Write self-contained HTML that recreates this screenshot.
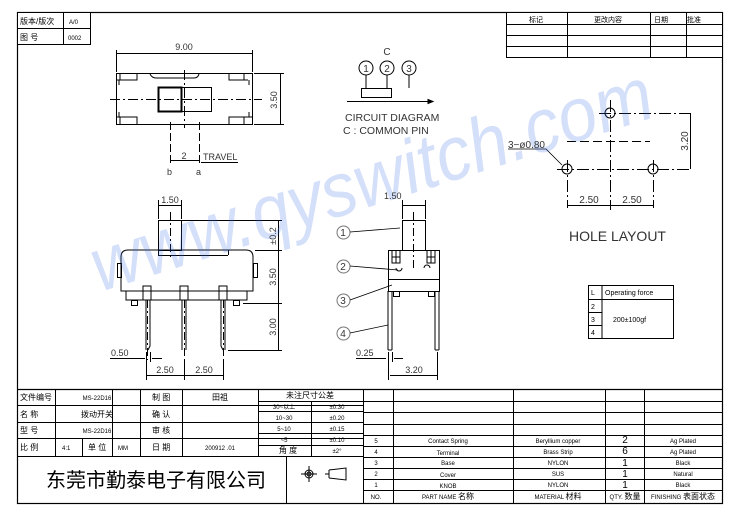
<!DOCTYPE html>
<html><head><meta charset="utf-8"><style>
html,body{margin:0;padding:0;background:#fff;}
svg{display:block;font-family:"Liberation Sans","Noto Sans CJK SC",sans-serif;}
</style></head><body>
<svg width="750" height="520" viewBox="0 0 750 520" xmlns="http://www.w3.org/2000/svg">
<g stroke="#000" fill="none" stroke-width="1">
<rect x="17.5" y="12.5" width="705" height="491" stroke-width="1.2"/>
<rect x="17.5" y="12.5" width="73" height="32" fill="#fff"/>
<line x1="17.5" y1="28.5" x2="90.5" y2="28.5"/>
<line x1="63.5" y1="12.5" x2="63.5" y2="44.5"/>
<rect x="506.5" y="12.5" width="216" height="45" fill="#fff"/>
<line x1="506.5" y1="24.5" x2="722.5" y2="24.5"/><line x1="506.5" y1="35.5" x2="722.5" y2="35.5"/><line x1="506.5" y1="46.5" x2="722.5" y2="46.5"/>
<line x1="567.5" y1="12.5" x2="567.5" y2="57.5"/><line x1="650.5" y1="12.5" x2="650.5" y2="57.5"/><line x1="686.5" y1="12.5" x2="686.5" y2="57.5"/>

<rect x="116.5" y="73.5" width="136" height="51"/>
<path d="M150 74 q2 4 6 4 h38 q4 0 5 -4"/>
<rect x="158.5" y="87.5" width="23" height="24" stroke-width="2"/>
<rect x="181.5" y="87.5" width="30" height="24"/>
<path d="M116 80 h4 v-6 M120 80 v-6 M120 80 h17 v-6 M248 80 h-4 v-6 M244 80 h-15 v-6 M116 117 h4 v7 M120 117 h17 v7 M252 117 h-8 v7 M244 117 h-15 v7 M119 80 v5 M249 80 v5 M119 117 v-5 M249 117 v-5"/>
<line x1="110" y1="99.5" x2="262" y2="99.5" stroke-dasharray="10,3,2,3"/>
<line x1="184.5" y1="70" x2="184.5" y2="128" stroke-dasharray="10,3,2,3"/>
<line x1="116.5" y1="50" x2="116.5" y2="72"/><line x1="252.5" y1="50" x2="252.5" y2="72"/>
<line x1="117" y1="53.5" x2="252" y2="53.5"/>
<line x1="254" y1="73.5" x2="284" y2="73.5"/><line x1="254" y1="124.5" x2="284" y2="124.5"/>
<line x1="280.5" y1="74" x2="280.5" y2="124"/>
<line x1="170.5" y1="122" x2="170.5" y2="163" stroke-dasharray="8,3"/>
<line x1="199.5" y1="122" x2="199.5" y2="163" stroke-dasharray="8,3"/>
<line x1="171" y1="160.5" x2="199" y2="160.5"/>
<line x1="201" y1="162.5" x2="238" y2="162.5"/>

<rect x="158.5" y="220.5" width="23" height="30"/>
<line x1="170.5" y1="212" x2="170.5" y2="257" stroke-dasharray="8,3,2,3"/>
<path d="M121 257 q0 -7 7 -7 h118 q7 0 7 7 v34 h-132 z"/>
<line x1="158.5" y1="250.5" x2="158.5" y2="255.5"/><line x1="158" y1="255.5" x2="228" y2="255.5"/><line x1="228.5" y1="250" x2="228.5" y2="255"/>
<rect x="117.5" y="263.5" width="4" height="14"/><rect x="253.5" y="263.5" width="4" height="14"/>
<path d="M126 291 v9 h121 v-9"/>
<rect x="131.5" y="300.5" width="6" height="5"/><rect x="233.5" y="300.5" width="6" height="5"/>
<path d="M143 286 v14 h8 v-14 z M146 300 v50 M150 300 v46 l-2 4 M180 286 v14 h8 v-14 z M182 300 v50 M186 300 v50 M219 286 v14 h8 v-14 z M221 300 v46 l2 4 M225 300 v50"/>
<line x1="147.5" y1="300" x2="147.5" y2="360" stroke-dasharray="8,3,2,3"/>
<line x1="184.5" y1="300" x2="184.5" y2="360" stroke-dasharray="8,3,2,3"/>
<line x1="223.5" y1="300" x2="223.5" y2="360" stroke-dasharray="8,3,2,3"/>
<line x1="158.5" y1="200" x2="158.5" y2="219"/><line x1="181.5" y1="200" x2="181.5" y2="219"/>
<line x1="158" y1="205.5" x2="181" y2="205.5"/>
<line x1="182" y1="220.5" x2="282" y2="220.5"/><line x1="255" y1="250.5" x2="282" y2="250.5"/>
<line x1="243" y1="303.5" x2="282" y2="303.5"/><line x1="228" y1="350.5" x2="282" y2="350.5"/>
<line x1="278.5" y1="220" x2="278.5" y2="350"/>
<line x1="146.5" y1="352" x2="146.5" y2="380"/><line x1="150.5" y1="352" x2="150.5" y2="362"/>
<line x1="110" y1="358.5" x2="145" y2="358.5"/><line x1="152" y1="358.5" x2="162" y2="358.5"/>
<line x1="184.5" y1="360" x2="184.5" y2="380"/><line x1="223.5" y1="360" x2="223.5" y2="380"/>
<line x1="147" y1="375.5" x2="223" y2="375.5"/>

<rect x="402.5" y="220.5" width="23" height="30"/>
<line x1="413.5" y1="212" x2="413.5" y2="270" stroke-dasharray="8,3,2,3"/>
<rect x="388.5" y="250.5" width="51" height="41"/>
<line x1="388" y1="279.5" x2="439" y2="279.5"/>
<path d="M392 251 v12 h8 v-12 M392 257 h8 M396 251 v12 M427 251 v12 h8 v-12 M427 257 h8 M431 251 v12"/>
<path d="M396 268 a3 3 0 1 0 6 0 M424 268 a3 3 0 1 1 6 0"/>
<path d="M388 291 v59 M392 291 v59 M435 291 v59 M439 291 v59 M388 350 h4 M435 350 h4"/>
<rect x="393.5" y="291.5" width="6" height="5"/><rect x="428.5" y="291.5" width="6" height="5"/>
<line x1="402.5" y1="200" x2="402.5" y2="219"/><line x1="425.5" y1="200" x2="425.5" y2="219"/>
<line x1="402" y1="205.5" x2="425" y2="205.5"/>
<line x1="388.5" y1="352" x2="388.5" y2="380"/><line x1="392.5" y1="352" x2="392.5" y2="362"/><line x1="437.5" y1="352" x2="437.5" y2="380"/>
<line x1="356" y1="358.5" x2="386" y2="358.5"/><line x1="394" y1="358.5" x2="403" y2="358.5"/>
<line x1="390" y1="375.5" x2="437" y2="375.5"/>
<circle cx="343.5" cy="232.5" r="6.5" stroke="#777"/><circle cx="343.5" cy="266.5" r="6.5" stroke="#777"/>
<circle cx="343.5" cy="300.5" r="6.5" stroke="#777"/><circle cx="343.5" cy="333.5" r="6.5" stroke="#777"/>
<path d="M350 232 L400 228 M350 266 L398 270 M350 300 L392 285 M350 333 L388 325" stroke-width="0.8"/>

<circle cx="366" cy="68" r="7"/><circle cx="387" cy="68" r="7"/><circle cx="409" cy="68" r="7"/>
<path d="M366 75 v13 M387 75 v13 M409 75 v13"/>
<rect x="361.5" y="88.5" width="30" height="9"/>
<line x1="347" y1="101.5" x2="428" y2="101.5"/><path d="M428 99.5 l5 2 l-5 2 z" fill="#000"/>

<circle cx="567" cy="169" r="5"/><circle cx="653" cy="169" r="5"/><circle cx="610" cy="113" r="5"/>
<line x1="557" y1="169.5" x2="692" y2="169.5" stroke-dasharray="12,3,2,3"/>
<line x1="599" y1="113.5" x2="692" y2="113.5" stroke-dasharray="12,3,2,3"/>
<line x1="567" y1="141.5" x2="650" y2="141.5" stroke-dasharray="9,4"/>
<line x1="610.5" y1="100" x2="610.5" y2="210" stroke-dasharray="12,3,2,3"/>
<line x1="567.5" y1="160" x2="567.5" y2="208" stroke-dasharray="12,3,2,3"/>
<line x1="653.5" y1="160" x2="653.5" y2="208" stroke-dasharray="12,3,2,3"/>
<line x1="690.5" y1="114" x2="690.5" y2="169"/>
<line x1="568" y1="205.5" x2="653" y2="205.5"/>
<path d="M508 149 h38 l16 16" stroke-width="0.8"/>

<rect x="588.5" y="285.5" width="85" height="53"/>
<line x1="588" y1="299.5" x2="673" y2="299.5"/>
<path d="M588 312.5 h14 M588 325.5 h14 M602 285 v53"/>

<line x1="17" y1="389.5" x2="722" y2="389.5" stroke-width="1.2"/>
<path d="M17 405.5 h346 M17 422.5 h346 M17 438.5 h346 M17 456.5 h346 M258 401.5 h105 M258 411.5 h105 M258 433.5 h105 M258 445.5 h105"/>
<path d="M55.5 389 v67 M112.5 389 v67 M140.5 389 v67 M182.5 389 v67 M258.5 389 v67 M311.5 401 v55 M82.5 438 v18 M286.5 456 v47 M363.5 389 v114"/>
<path d="M363 401.5 h359 M363 412.5 h359 M363 424.5 h359 M363 435.5 h359 M363 446.5 h359 M363 457.5 h359 M363 468.5 h359 M363 479.5 h359 M363 490.5 h359"/>
<path d="M393.5 389 v114 M513.5 389 v114 M605.5 389 v114 M644.5 389 v114"/>
<circle cx="309" cy="474" r="4"/><circle cx="309" cy="474" r="2"/>
<path d="M301 474 h16 M309 466 v16"/>
<path d="M329 470 v8 M329 470 l17 -2 v12 l-17 -2 M325 474 h4"/>
</g>

<text x="0" y="0" transform="translate(100,292) rotate(-17.5)" font-size="76" font-style="italic" fill="#3c6ce6" fill-opacity="0.22" textLength="585" lengthAdjust="spacingAndGlyphs" font-family="Liberation Sans, sans-serif">www.qyswitch.com</text>

<g font-size="8" fill="#000">
<text x="20" y="24">版本/版次</text><text x="69" y="24" font-size="6">A/0</text>
<text x="20" y="40">图 号</text><text x="68" y="40" font-size="6">0002</text>
<g font-size="7" text-anchor="middle">
<text x="536" y="22">标记</text><text x="608" y="22">更改内容</text><text x="661" y="22">日期</text><text x="694" y="22">批准</text>
</g>
<g font-size="9" fill="#333">
<text x="184" y="50" text-anchor="middle">9.00</text>
<text transform="translate(277,100) rotate(-90)" text-anchor="middle">3.50</text>
<text x="184" y="159" text-anchor="middle">2</text>
<text x="203" y="160">TRAVEL</text>
<text x="167" y="175">b</text><text x="196" y="175">a</text>
<text x="170" y="203" text-anchor="middle">1.50</text>
<text transform="translate(276,236) rotate(-90)" text-anchor="middle">±0.2</text>
<text transform="translate(276,277) rotate(-90)" text-anchor="middle">3.50</text>
<text transform="translate(276,327) rotate(-90)" text-anchor="middle">3.00</text>
<text x="111" y="356">0.50</text>
<text x="165" y="373" text-anchor="middle">2.50</text><text x="204" y="373" text-anchor="middle">2.50</text>
<text x="384" y="199">1.50</text>
<text x="356" y="356">0.25</text>
<text x="414" y="373" text-anchor="middle">3.20</text>
<text x="343" y="236" text-anchor="middle" font-size="10">1</text>
<text x="343" y="270" text-anchor="middle" font-size="10">2</text>
<text x="343" y="304" text-anchor="middle" font-size="10">3</text>
<text x="343" y="337" text-anchor="middle" font-size="10">4</text>
<text x="366" y="72" text-anchor="middle" font-size="10">1</text>
<text x="387" y="72" text-anchor="middle" font-size="10">2</text>
<text x="409" y="72" text-anchor="middle" font-size="10">3</text>
<text x="387" y="55" text-anchor="middle" font-size="10">C</text>
<text x="345" y="121" font-size="10.5">CIRCUIT DIAGRAM</text>
<text x="343" y="134" font-size="10.5">C : COMMON PIN</text>
<text x="508" y="148" font-size="10">3−ø0.80</text>
<text transform="translate(688,141) rotate(-90)" text-anchor="middle" font-size="10">3.20</text>
<text x="589" y="203" text-anchor="middle" font-size="10">2.50</text>
<text x="632" y="203" text-anchor="middle" font-size="10">2.50</text>
<text x="569" y="241" font-size="14">HOLE LAYOUT</text>
</g>
<g font-size="7">
<text x="591" y="295">L</text><text x="605" y="295">Operating force</text>
<text x="591" y="309">2</text><text x="591" y="322">3</text><text x="591" y="335">4</text>
<text x="613" y="322">200±100gf</text>
</g>
<g font-size="8">
<text x="20" y="400">文件编号</text><text x="97" y="400" text-anchor="middle" font-size="6">MS-22D16</text>
<text x="152" y="400">制 图</text><text x="220" y="400" text-anchor="middle">田祖</text>
<text x="20" y="417">名 称</text><text x="97" y="417" text-anchor="middle">拨动开关</text>
<text x="152" y="417">确 认</text>
<text x="20" y="433">型 号</text><text x="97" y="433" text-anchor="middle" font-size="6">MS-22D16</text>
<text x="152" y="433">审 核</text>
<text x="20" y="450">比 例</text><text x="62" y="450" font-size="6">4:1</text>
<text x="88" y="450">单 位</text><text x="118" y="450" font-size="6">MM</text>
<text x="152" y="450">日 期</text><text x="220" y="450" text-anchor="middle" font-size="6">200912 .01</text>
<text x="310" y="398" text-anchor="middle">未注尺寸公差</text>
<text x="288" y="453" text-anchor="middle">角 度</text>
</g>
<g font-size="6" text-anchor="middle">
<text x="284" y="409">30~以上</text><text x="337" y="409">±0.30</text>
<text x="284" y="420">10~30</text><text x="337" y="420">±0.20</text>
<text x="284" y="431">5~10</text><text x="337" y="431">±0.15</text>
<text x="284" y="442">~5</text><text x="337" y="442">±0.10</text>
<text x="337" y="453">±2°</text>
<text x="376" y="443">5</text><text x="448" y="443">Contact Spring</text><text x="558" y="443">Beryllium copper</text><text x="683" y="443">Ag Plated</text>
<text x="376" y="454">4</text><text x="448" y="455">Terminal</text><text x="558" y="454">Brass Strip</text><text x="683" y="454">Ag Plated</text>
<text x="376" y="465">3</text><text x="448" y="465">Base</text><text x="558" y="465">NYLON</text><text x="683" y="465">Black</text>
<text x="376" y="476">2</text><text x="448" y="477">Cover</text><text x="558" y="476">SUS</text><text x="683" y="476">Natural</text>
<text x="376" y="487">1</text><text x="448" y="488">KNOB</text><text x="558" y="487">NYLON</text><text x="683" y="487">Black</text>
<text x="376" y="499">NO.</text><text x="448" y="499">PART NAME <tspan font-size="8">名称</tspan></text>
<text x="558" y="499">MATERIAL <tspan font-size="8">材料</tspan></text>
<text x="625" y="499">QTY. <tspan font-size="8">数量</tspan></text>
<text x="683" y="499">FINISHING <tspan font-size="8">表面状态</tspan></text>
</g>
<g font-size="10" text-anchor="middle">
<text x="625" y="443">2</text><text x="625" y="454">6</text><text x="625" y="466">1</text><text x="625" y="477">1</text><text x="625" y="488">1</text>
</g>
<text x="156" y="487" font-size="20" text-anchor="middle">东莞市勤泰电子有限公司</text>
</g>
</svg>
</body></html>
